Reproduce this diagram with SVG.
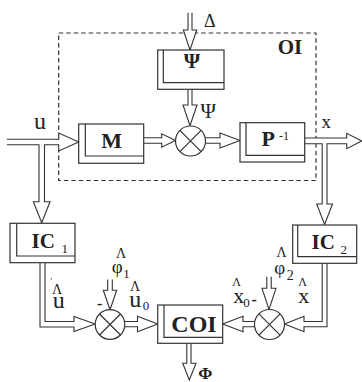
<svg xmlns="http://www.w3.org/2000/svg" width="362" height="382" viewBox="0 0 362 382">
<style>
.bx{fill:#fff;stroke:#333;stroke-width:1.2}
.in{fill:none;stroke:#333;stroke-width:1.2}
.cn{fill:#fff;stroke:#333;stroke-width:1.1;stroke-linejoin:miter}
.dash{fill:none;stroke:#333;stroke-width:1.2;stroke-dasharray:4.5 3}
text{font-family:"Liberation Serif","Times New Roman",serif;fill:#222}
.b{font-weight:bold}
.m{text-anchor:middle}
</style>
<rect class="dash" x="58.7" y="33" width="257.3" height="147.5"/>
<text class="b" x="277.7" y="54" font-size="21">OI</text>
<g id="connectors">
<path class="cn" d="M188,12.7 V30 H183.3 L190,50 L196.7,30 H192 V12.7"/>
<path class="cn" d="M188,89.3 V105 H183 L190,125.8 L197,105 H192 V89.3"/>
<path class="cn" d="M7,139.2 H58.7 V133 L78.7,142 L58.7,151 V144.7 H44.5 V201.7 H50 L41.7,222.8 L33.4,201.7 H39 V144.7 H7"/>
<path class="cn" d="M143.7,137.8 H161.7 V133.8 L175.5,140.5 L161.7,147.2 V143.2 H143.7"/>
<path class="cn" d="M205.5,137.8 H220 V133 L240,140.5 L220,148 V143.2 H205.5"/>
<path class="cn" d="M304.7,138 H346.7 V133.3 L361.7,141 L346.7,148.7 V143.8 H327 V204 H332.5 L324.6,224.5 L316.7,204 H322.2 V143.8 H304.7"/>
<path class="cn" d="M40,262.7 V327 H74 V331.5 L95.2,324 L74,316.5 V321.5 H45 V262.7"/>
<path class="cn" d="M107.7,279.5 V290.3 H103.3 L110,309.7 L116.7,290.3 H112.3 V279.5"/>
<path class="cn" d="M124.8,321.5 H137.5 V316.3 L157.7,324 L137.5,331.7 V326.7 H124.8"/>
<path class="cn" d="M254.5,321.5 H243 V316.3 L222.7,324 L243,331.7 V326.7 H254.5"/>
<path class="cn" d="M322.2,263.3 V321.5 H304 V316.3 L284.5,324 L304,331.7 V326.7 H327 V263.3"/>
<path class="cn" d="M266.8,276.7 V288.3 H262 L269,309.5 L276,288.3 H271.2 V276.7"/>
<path class="cn" d="M186.8,343.3 V363.3 H182.7 L189.3,380 L196,363.3 H191 V343.3"/>
</g>
<g id="psi">
<rect class="bx" x="157.7" y="50" width="66.3" height="39.3"/>
<path class="in" d="M163.3,50 V82.7 H224"/>
<text class="b m" x="192" y="67.5" font-size="21">Ψ</text>
</g>
<g id="M">
<rect class="bx" x="78.7" y="124" width="65" height="39.3"/>
<path class="in" d="M85.3,124 V156 H143.7"/>
<text class="b m" x="111.7" y="148" font-size="22">M</text>
</g>
<g id="sum1">
<circle class="bx" cx="190.5" cy="141" r="15"/>
<path class="in" d="M179.9,130.4 L201.1,151.6 M201.1,130.4 L179.9,151.6"/>
</g>
<g id="P">
<rect class="bx" x="240" y="122.7" width="64.7" height="39.3"/>
<path class="in" d="M246,122.7 V155.3 H304.7"/>
<text class="b" x="261.5" y="146" font-size="22">P</text>
<text x="279" y="140" font-size="12">-1</text>
</g>
<g id="IC1">
<rect class="bx" x="10" y="223.3" width="65" height="39.4"/>
<path class="in" d="M16.7,223.3 V256 H75"/>
<text class="b" x="31.5" y="247.7" font-size="21">IC</text>
<text x="61.5" y="252.5" font-size="13">1</text>
</g>
<g id="IC2">
<rect class="bx" x="292.7" y="225" width="64" height="38.3"/>
<path class="in" d="M297.7,225 V256.7 H356.7"/>
<text class="b" x="311.5" y="249.3" font-size="21">IC</text>
<text x="340.5" y="254" font-size="13">2</text>
</g>
<g id="sum2">
<circle class="bx" cx="110" cy="324.5" r="14.8"/>
<path class="in" d="M99.5,314 L120.5,335 M120.5,314 L99.5,335"/>
</g>
<g id="sum3">
<circle class="bx" cx="269.5" cy="324.5" r="15"/>
<path class="in" d="M258.9,313.9 L280.1,335.1 M280.1,313.9 L258.9,335.1"/>
</g>
<g id="COI">
<rect class="bx" x="157.7" y="305" width="65" height="38.3"/>
<path class="in" d="M164,305 V337.3 H222.7"/>
<text class="b m" x="194" y="331.5" font-size="24">COI</text>
</g>
<g id="labels">
<text x="204" y="26.5" font-size="18">Δ</text>
<text x="200.5" y="118" font-size="21">Ψ</text>
<text x="34" y="129.3" font-size="24">u</text>
<text x="321.5" y="128.3" font-size="19">x</text>
<text class="b" x="198.3" y="378.5" font-size="17">Φ</text>
<text x="50.5" y="284" font-size="9">'</text>
<text class="m" x="57" y="294" font-size="14">Λ</text>
<text x="52.7" y="308.3" font-size="24">u</text>
<text class="m" x="121" y="258" font-size="14">Λ</text>
<text x="111.7" y="273" font-size="19">φ</text>
<text x="123.3" y="278.3" font-size="13">1</text>
<text class="b" x="97" y="309" font-size="16">-</text>
<text class="m" x="135" y="291" font-size="14">Λ</text>
<text x="129.3" y="306.7" font-size="24">u</text>
<text x="142.7" y="310" font-size="13">0</text>
<text class="m" x="236.5" y="285.5" font-size="12">Λ</text>
<text x="233.3" y="303.3" font-size="22">x</text>
<text x="243.3" y="306.7" font-size="13">0</text>
<text class="b" x="251.5" y="305" font-size="16">-</text>
<text class="m" x="281.5" y="256.5" font-size="14">Λ</text>
<text x="274.3" y="274" font-size="19">φ</text>
<text x="286.7" y="280" font-size="14">2</text>
<text class="m" x="302.7" y="285.5" font-size="12">Λ</text>
<text x="298.3" y="303.3" font-size="22">x</text>
</g>
</svg>
